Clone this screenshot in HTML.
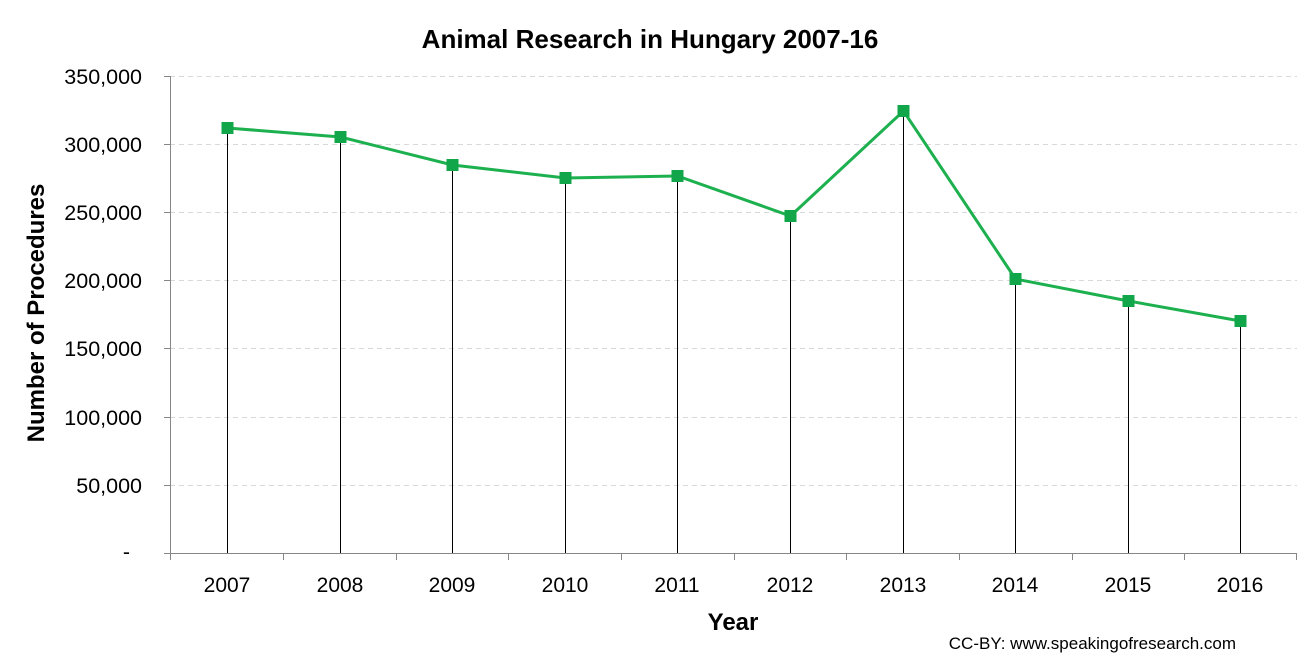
<!DOCTYPE html>
<html><head><style>body{margin:0;background:#fff}svg{display:block}text{font-family:"Liberation Sans",sans-serif}</style></head><body>
<svg width="1313" height="658" viewBox="0 0 1313 658">
<text x="650" y="48" text-anchor="middle" font-size="26" font-weight="bold" fill="#000">Animal Research in Hungary 2007-16</text>
<g stroke="#d9d9d9" stroke-dasharray="5,4" stroke-width="1">
<line x1="170" x2="1297" y1="76.5" y2="76.5"/><line x1="170" x2="1297" y1="144.5" y2="144.5"/><line x1="170" x2="1297" y1="212.5" y2="212.5"/><line x1="170" x2="1297" y1="280.5" y2="280.5"/><line x1="170" x2="1297" y1="348.5" y2="348.5"/><line x1="170" x2="1297" y1="417.5" y2="417.5"/><line x1="170" x2="1297" y1="485.5" y2="485.5"/>
</g>
<g stroke="#868686" stroke-width="1">
<line x1="170.5" y1="76" x2="170.5" y2="553"/><line x1="170" y1="553.5" x2="1297" y2="553.5"/>
<line x1="164" x2="170" y1="76.5" y2="76.5"/><line x1="164" x2="170" y1="144.5" y2="144.5"/><line x1="164" x2="170" y1="212.5" y2="212.5"/><line x1="164" x2="170" y1="280.5" y2="280.5"/><line x1="164" x2="170" y1="348.5" y2="348.5"/><line x1="164" x2="170" y1="417.5" y2="417.5"/><line x1="164" x2="170" y1="485.5" y2="485.5"/><line x1="164" x2="170" y1="553.5" y2="553.5"/>
<line x1="170.5" x2="170.5" y1="553" y2="560"/><line x1="283.5" x2="283.5" y1="553" y2="560"/><line x1="396.5" x2="396.5" y1="553" y2="560"/><line x1="508.5" x2="508.5" y1="553" y2="560"/><line x1="621.5" x2="621.5" y1="553" y2="560"/><line x1="734.5" x2="734.5" y1="553" y2="560"/><line x1="846.5" x2="846.5" y1="553" y2="560"/><line x1="959.5" x2="959.5" y1="553" y2="560"/><line x1="1072.5" x2="1072.5" y1="553" y2="560"/><line x1="1184.5" x2="1184.5" y1="553" y2="560"/><line x1="1296.5" x2="1296.5" y1="553" y2="560"/>
</g>
<g font-size="21.5" text-anchor="end" fill="#000">
<text x="142" y="84">350,000</text><text x="142" y="152">300,000</text><text x="142" y="220">250,000</text><text x="142" y="288">200,000</text><text x="142" y="356">150,000</text><text x="142" y="425">100,000</text><text x="142" y="493">50,000</text><text x="130" y="559">-</text>
</g>
<g font-size="21" text-anchor="middle" fill="#000">
<text x="227" y="592">2007</text><text x="340" y="592">2008</text><text x="452" y="592">2009</text><text x="565" y="592">2010</text><text x="677" y="592">2011</text><text x="790" y="592">2012</text><text x="903" y="592">2013</text><text x="1015" y="592">2014</text><text x="1128" y="592">2015</text><text x="1240" y="592">2016</text>
</g>
<text x="733" y="630" text-anchor="middle" font-size="24" font-weight="bold">Year</text>
<text transform="translate(44,313) rotate(-90)" text-anchor="middle" font-size="24" font-weight="bold">Number of Procedures</text>
<text x="1236" y="649" text-anchor="end" font-size="17">CC-BY: www.speakingofresearch.com</text>
<g stroke="#000" stroke-width="1">
<line x1="227.5" x2="227.5" y1="128" y2="553"/><line x1="340.5" x2="340.5" y1="137" y2="553"/><line x1="452.5" x2="452.5" y1="165" y2="553"/><line x1="565.5" x2="565.5" y1="178" y2="553"/><line x1="677.5" x2="677.5" y1="176" y2="553"/><line x1="790.5" x2="790.5" y1="216" y2="553"/><line x1="903.5" x2="903.5" y1="111" y2="553"/><line x1="1015.5" x2="1015.5" y1="279" y2="553"/><line x1="1128.5" x2="1128.5" y1="301" y2="553"/><line x1="1240.5" x2="1240.5" y1="321" y2="553"/>
</g>
<polyline fill="none" stroke="#1db04f" stroke-width="3" points="227.5,128 340.5,137 452.5,165 565.5,178 677.5,176 790.5,216 903.5,111 1015.5,279 1128.5,301 1240.5,321"/>
<g fill="#12a64a">
<rect x="221.5" y="122" width="12" height="12"/><rect x="334.5" y="131" width="12" height="12"/><rect x="446.5" y="159" width="12" height="12"/><rect x="559.5" y="172" width="12" height="12"/><rect x="671.5" y="170" width="12" height="12"/><rect x="784.5" y="210" width="12" height="12"/><rect x="897.5" y="105" width="12" height="12"/><rect x="1009.5" y="273" width="12" height="12"/><rect x="1122.5" y="295" width="12" height="12"/><rect x="1234.5" y="315" width="12" height="12"/>
</g>
</svg>
</body></html>
